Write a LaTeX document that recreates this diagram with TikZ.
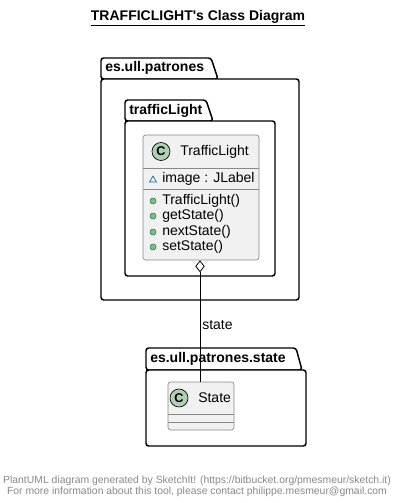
\documentclass[tikz,border=0pt]{standalone}
\usepackage{fontspec}
\setmainfont{Liberation Sans}
\usepackage{tikz}
\usetikzlibrary{arrows.meta}
\usetikzlibrary{shapes}

\definecolor{classfill}{RGB}{241,241,241}
\definecolor{classline}{RGB}{136,136,136}
\definecolor{spotfill}{RGB}{173,209,178}
\definecolor{pubfill}{RGB}{132,190,132}
\definecolor{publine}{RGB}{3,128,72}
\definecolor{pkgline}{RGB}{25,99,160}
\definecolor{footgrey}{RGB}{136,136,136}

\tikzset{
    pkg/.style={draw=black, line width=1.1pt, fill=white, rounded corners=2pt},
    pkgname/.style={anchor=west, inner sep=0pt, font=\bfseries\fontsize{10.5}{12}\selectfont},
    classbox/.style={draw=classline, fill=classfill, line width=0.5pt, rounded corners=2pt, inner sep=0pt},
    sepline/.style={draw=classline, line width=0.5pt},
    spot/.style={circle, draw=black, fill=spotfill, line width=0.5pt, minimum size=13.5pt, inner sep=0pt, font=\bfseries\fontsize{9.5}{10}\selectfont},
    member/.style={anchor=west, inner sep=0pt, font=\fontsize{10.5}{12}\selectfont},
    pub/.style={circle, draw=publine, fill=pubfill, line width=0.4pt, minimum size=4.5pt, inner sep=0pt},
    foot/.style={inner sep=0pt, text=footgrey, font=\fontsize{7.8}{9}\selectfont}
}

\begin{document}
\begin{tikzpicture}[x=0.75pt,y=0.75pt,yscale=-1,xscale=1]
    \useasboundingbox (0,0) rectangle (401,503);

    % Title
    \node (title) [inner sep=0pt, font=\bfseries\fontsize{10.5}{12}\selectfont] at (198,18) {\underline{TRAFFICLIGHT\textquotesingle s Class Diagram}};

    %Package es.ull.patrones
    \draw [pkg] (101,79) -- (101,58) -- (211,58) -- (218,79) -- cycle ;
    \draw [pkg] (101,79) rectangle (299,300) ;
    \node (pkgA) [pkgname] at (105,68) {es.ull.patrones};

    %Package trafficLight
    \draw [pkg] (125,121) -- (125,100) -- (206,100) -- (213,121) -- cycle ;
    \draw [pkg] (125,121) rectangle (275,276) ;
    \node (pkgB) [pkgname] at (129,111) {trafficLight};

    %Package es.ull.patrones.state
    \draw [pkg] (146,370) -- (146,348) -- (296,348) -- (302,370) -- cycle ;
    \draw [pkg] (146,370) rectangle (306,446) ;
    \node (pkgC) [pkgname] at (150,359) {es.ull.patrones.state};

    %Class TrafficLight
    \node (tl) [classbox, minimum width=87pt, minimum height=93.75pt] at (201,197.5) {};
    \draw [sepline] (143,168) -- (259,168) ;
    \draw [sepline] (143,189) -- (259,189) ;
    \node (tlspot) [spot] at (161,151.5) {C};
    \node (tlname) [member] at (180,151.5) {TrafficLight};
    \draw [pkgline, line width=0.5pt] (149.5,182) -- (156.5,182) -- (153,176) -- cycle ;
    \node (attr) [member] at (162,179) {image : JLabel};
    \foreach \y/\m in {201/TrafficLight(), 216/getState(), 232/nextState(), 247/setState()} {
        \node [pub] at (153,\y) {};
        \node [member] at (162,\y) {\m};
    }

    %Class State
    \node (st) [classbox, minimum width=49.5pt, minimum height=36pt] at (201,406) {};
    \draw [sepline] (168,414) -- (234,414) ;
    \draw [sepline] (168,422) -- (234,422) ;
    \node (stspot) [spot] at (179,398) {C};
    \node (stname) [member] at (198,398) {State};

    %Aggregation
    \draw [line width=0.6pt, {Diamond[open, length=9pt, width=7pt]}-] (tl.south -| 200,0) -- (st.north -| 200,0) ;
    \node (lbl) [member] at (202,325) {state};

    % Footer
    \node (foot1) [foot] at (197,481) {PlantUML diagram generated by SketchIt! (https://bitbucket.org/pmesmeur/sketch.it)};
    \node (foot2) [foot] at (197,492) {For more information about this tool, please contact philippe.mesmeur@gmail.com};

\end{tikzpicture}
\end{document}
